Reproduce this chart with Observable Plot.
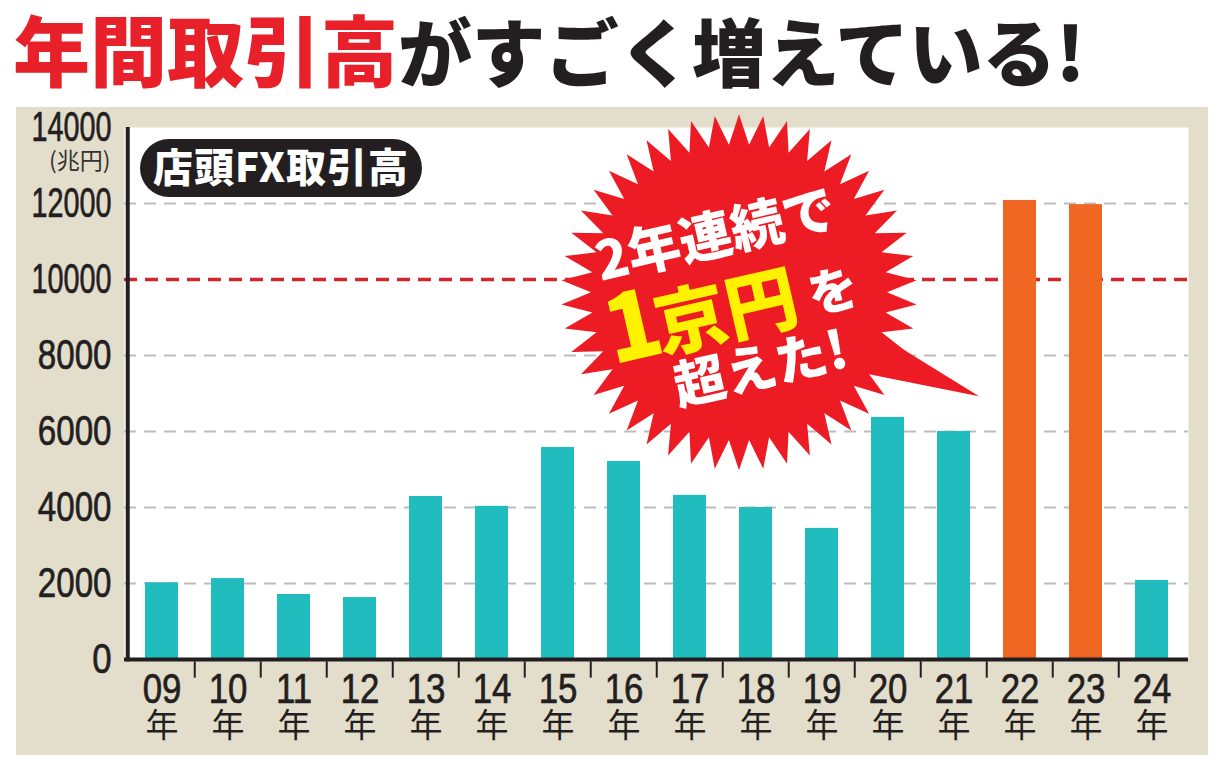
<!DOCTYPE html>
<html><head><meta charset="utf-8">
<script src="https://cdn.jsdelivr.net/npm/d3@7"></script>
<script src="https://cdn.jsdelivr.net/npm/@observablehq/plot@0.6"></script>
<style>
body{margin:0;background:#fff;width:1222px;height:764px;position:relative;overflow:hidden;font-family:"Noto Sans CJK JP",sans-serif}
#title{position:absolute;left:13px;top:-6px;font-weight:900;line-height:1.4;white-space:nowrap}
#title .r{color:#e8202a;font-size:77px}
#title .k{color:#231f20;font-size:74px;letter-spacing:-0.5px}
#chart{position:absolute;left:16px;top:107px;line-height:0}
#chart svg{display:block}
</style></head><body>
<div id="title"></div><div id="chart"></div>
<script>
// ---- data ----
const years = ["09","10","11","12","13","14","15","16","17","18","19","20","21","22","23","24"];
const values = [2020, 2130, 1710, 1630, 4290, 4030, 5580, 5210, 4320, 4000, 3450, 6370, 6000, 12080, 11970, 2080];
const yTicks = [0, 2000, 4000, 6000, 8000, 10000, 12000, 14000];
const gridTicks = [2000, 4000, 6000, 8000, 12000];
const threshold = 10000;
const yearSuffix = "年";
const yUnit = "(兆円)";
const badgeLabel = "店頭FX取引高";
const titleRed = "年間取引高";
const titleBlack = "がすごく増えている!";
const calloutLine1 = "2年連続で";
const calloutBigNum = "1";
const calloutBig = "京円";
const calloutParticle = "を";
const calloutLine3 = "超えた!";

// ---- styles ----
const TEAL = "#21bcbe", ORANGE = "#f06623", RED = "#ed1c24", INK = "#231f20";
const numFont = "'Liberation Sans',Arial,sans-serif";
const cjkFont = "'Noto Sans CJK JP',sans-serif";
const squeezeFor = len => len >= 5 ? 0.67 : len === 4 ? 0.77 : 0.81;

document.getElementById("title").innerHTML =
  `<span class="r">${titleRed}</span><span class="k">${titleBlack}</span>`;

const W = 1192, H = 648, mL = 108, mR = 20, mT = 20, mB = 96;
const step = (W - mL - mR) / years.length;
const data = years.map((year, i) => ({year, value: values[i]}));

const chart = Plot.plot({
  width: W, height: H,
  marginLeft: mL, marginRight: mR, marginTop: mT, marginBottom: mB,
  style: {background: "#e3ddcc", overflow: "visible", color: INK},
  x: {domain: years, paddingInner: 0.5, paddingOuter: 0.25, axis: null},
  y: {domain: [0, 14000], axis: null},
  color: {type: "identity"},
  marks: [
    Plot.frame({fill: "white", stroke: "none"}),
    Plot.ruleY(gridTicks, {stroke: "#bdbdbd", strokeWidth: 2, strokeDasharray: "12,8"}),
    Plot.ruleY([threshold], {stroke: "#d0262d", strokeWidth: 3.5, strokeDasharray: "13,8"}),
    Plot.barY(data, {x: "year", y: "value", fill: d => d.value >= threshold ? ORANGE : TEAL}),
    Plot.ruleY([0], {stroke: INK, strokeWidth: 4}),
    Plot.ruleX([years[0]], {x: d => d, dx: -step / 2 - 1, y1: -60, y2: 14000, stroke: INK, strokeWidth: 4}),
    Plot.ruleX(years.slice(1), {x: d => d, dx: -step / 2, y1: -60, y2: -490, stroke: INK, strokeWidth: 2}),
    Plot.text(yTicks, {y: d => d, frameAnchor: "left", dx: -13, textAnchor: "end", lineAnchor: "middle",
      text: d => String(d), fontSize: 43, fontFamily: numFont, fill: INK, stroke: INK, strokeWidth: 0.7}),
    Plot.text([yUnit], {frameAnchor: "top-left", dx: -14, dy: 34, textAnchor: "end", lineAnchor: "middle",
      fontSize: 23, fontFamily: cjkFont, fill: "#333"}),
    Plot.text(years, {x: d => d, frameAnchor: "bottom", dy: 30, lineAnchor: "middle",
      text: d => d, fontSize: 43, fontFamily: numFont, fill: INK, stroke: INK, strokeWidth: 0.7}),
    Plot.text(years, {x: d => d, frameAnchor: "bottom", dy: 67, lineAnchor: "middle",
      text: () => yearSuffix, fontSize: 33, fontFamily: cjkFont, fill: INK})
  ]
});
document.getElementById("chart").appendChild(chart);

const svg = d3.select(chart);
// condensed look for the numeric tick labels (all-digit texts drawn by Plot)
svg.selectAll("text").filter(function () { return /^\d+$/.test(this.textContent.trim()); }).each(function () {
  const s = squeezeFor(this.textContent.trim().length);
  const tr = this.getAttribute("transform") || "";
  const x = this.getAttribute("x");
  if (x != null && parseFloat(x)) this.setAttribute("x", parseFloat(x) / s);
  this.setAttribute("transform", `${tr} scale(${s},1)`);
});

// ---- annotations ----
const sx = chart.scale("x"), sy = chart.scale("y");

// badge
const badge = svg.append("g");
badge.append("rect").attr("x", mL + 16).attr("y", mT + 12).attr("width", 282).attr("height", 58)
  .attr("rx", 29).attr("fill", INK);
badge.append("text").attr("x", mL + 16 + 141).attr("y", mT + 12 + 29).attr("dy", "0.36em")
  .attr("text-anchor", "middle").attr("fill", "white").attr("font-family", cjkFont)
  .attr("font-weight", 900).attr("font-size", 40).attr("letter-spacing", 1).text(badgeLabel);

// starburst
const cx = sx.apply("18"), cy = sy.apply(9650);
const n = 46, R = 178, r = 148;
const pts = d3.range(2 * n).map(i => {
  const a = -Math.PI / 2 + i * Math.PI / n;
  const rr = i % 2 === 0 ? R : r;
  return [cx + rr * Math.cos(a), cy + rr * Math.sin(a)];
});
const burst = svg.append("g");
burst.append("polygon").attr("points", [[cx + 130, cy + 36], [cx + 240, cy + 104], [cx + 120, cy + 80]].join(" "))
  .attr("fill", RED);
burst.append("polygon").attr("points", pts.join(" ")).attr("fill", RED);

const tg = burst.append("g").attr("transform", `translate(${cx},${cy}) rotate(-13)`)
  .attr("font-family", cjkFont).attr("font-weight", 900).attr("text-anchor", "middle");
tg.append("text").attr("x", -10).attr("y", -42).attr("font-size", 53)
  .attr("fill", "white").text(calloutLine1);
const big = tg.append("text").attr("x", -42).attr("y", 42).attr("fill", "#fff200");
big.append("tspan").attr("font-size", 92).attr("letter-spacing", -6).text(calloutBigNum);
big.append("tspan").attr("font-size", 72).text(calloutBig);
tg.append("text").attr("x", 92).attr("y", 38).attr("font-size", 50)
  .attr("fill", "white").text(calloutParticle);
tg.append("text").attr("x", 4).attr("y", 97).attr("font-size", 52)
  .attr("fill", "white").text(calloutLine3);
</script></body></html>
